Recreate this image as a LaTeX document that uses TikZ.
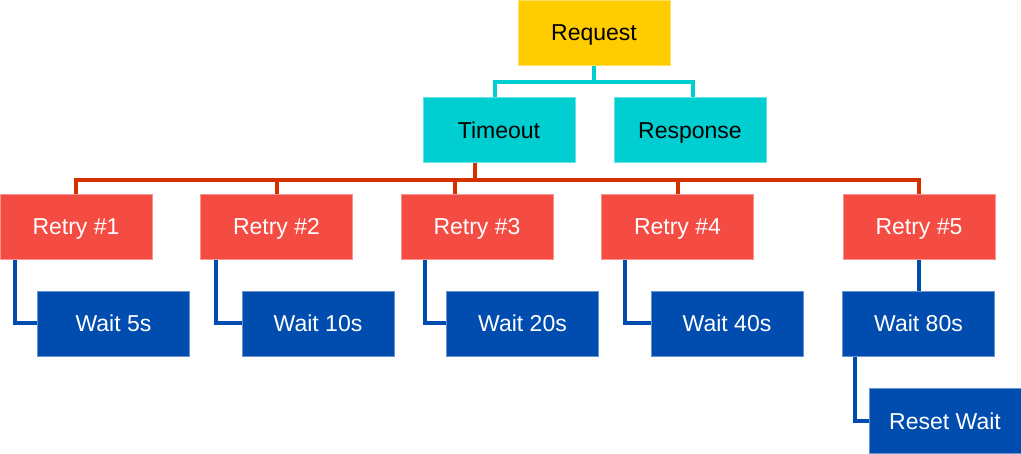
\documentclass[tikz,border=0pt]{standalone}
\usepackage{fontspec}
\setmainfont{Liberation Sans}
\usetikzlibrary{backgrounds}
\definecolor{cgold}{HTML}{FFCC00}
\definecolor{ccyan}{HTML}{00CED0}
\definecolor{cred}{HTML}{F44B43}
\definecolor{credline}{HTML}{D53000}
\definecolor{cblue}{HTML}{004DAF}
\tikzset{
  box/.style={rectangle, minimum width=152pt, minimum height=65pt, inner sep=0pt,
    text height=16.5pt, text depth=0pt,
    font=\fontsize{23}{27}\selectfont},
  goldbox/.style={box, fill=cgold, draw=cgold!60!white, line width=0.8pt, text=black},
  cyanbox/.style={box, fill=ccyan, draw=ccyan!60!white, line width=0.8pt, text=black},
  redbox/.style={box, fill=cred, draw=cred!60!white, line width=0.8pt, text=white},
  bluebox/.style={box, fill=cblue, draw=cblue!60!white, line width=0.8pt, text=white},
  cyanline/.style={draw=ccyan, line width=4pt},
  redline/.style={draw=credline, line width=4pt},
  blueline/.style={draw=cblue, line width=4pt},
}
\begin{document}
\begin{tikzpicture}[x=1pt,y=-1pt]
\useasboundingbox (0,0) rectangle (1021,454);
\coordinate (cy) at (0,82);
\coordinate (ry) at (0,180);
% nodes
\node[goldbox] (req) at (594,32.5) {Request};
\node[cyanbox] (to) at (499,130) {Timeout};
\node[cyanbox] (resp) at (690,130) {Response};
\node[redbox] (r1) at (76,226.5) {Retry \#1};
\node[redbox] (r2) at (276.5,226.5) {Retry \#2};
\node[redbox] (r3) at (477,226.5) {Retry \#3};
\node[redbox] (r4) at (677.5,226.5) {Retry \#4};
\node[redbox] (r5) at (919,226.5) {Retry \#5};
\node[bluebox] (w1) at (113.5,323.5) {Wait 5s};
\node[bluebox] (w2) at (318,323.5) {Wait 10s};
\node[bluebox] (w3) at (522.5,323.5) {Wait 20s};
\node[bluebox] (w4) at (727,323.5) {Wait 40s};
\node[bluebox] (w5) at (918.5,323.5) {Wait 80s};
\node[bluebox] (rw) at (945,421) {Reset Wait};
\begin{scope}[on background layer]
% cyan connectors
\draw[cyanline] (req.south) -- (req.south |- cy);
\draw[cyanline, line cap=rect] ([xshift=-4pt]to.north) |- (req.south |- cy) -| ([xshift=3pt]resp.north);
% red connectors
\draw[redline] ([xshift=-24pt]to.south) -- ([xshift=-24pt]to.south |- ry);
\draw[redline] (r1.north) |- ([xshift=-22pt]r3.north |- ry) -- ([xshift=-22pt]r3.north);
\draw[redline] ([xshift=-22pt]r3.north |- ry) -| (r5.north);
\draw[redline] (r2.north) -- (r2.north |- ry);
\draw[redline] (r4.north) -- (r4.north |- ry);
% blue connectors
\draw[blueline] ([xshift=15pt]r1.south west) |- (w1.west);
\draw[blueline] ([xshift=16pt]r2.south west) |- (w2.west);
\draw[blueline] ([xshift=24pt]r3.south west) |- (w3.west);
\draw[blueline] ([xshift=24pt]r4.south west) |- (w4.west);
\draw[blueline] (r5.south) -- (r5.south |- w5.north);
\draw[blueline] ([xshift=13pt]w5.south west) |- (rw.west);
\end{scope}
\end{tikzpicture}
\end{document}
